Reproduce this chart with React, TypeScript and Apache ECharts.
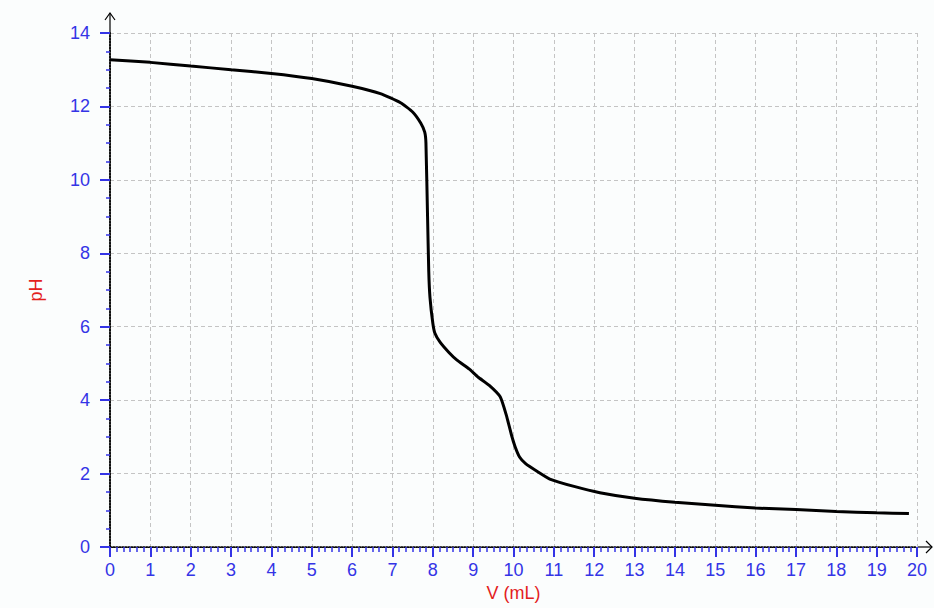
import React, { useEffect, useRef } from "react";
import * as echarts from "echarts";

const volume: number[] = [0, 1, 2, 3, 4, 5, 6, 6.7, 7.2, 7.5, 7.7, 7.8, 7.83, 7.87, 7.9, 7.93, 8.0, 8.05, 8.18, 8.4, 8.6, 8.9, 9.12, 9.4, 9.67, 9.82, 9.95, 10.04, 10.15, 10.3, 10.6, 10.9, 11.5, 12.14, 13, 14, 15, 16, 17, 18, 19, 19.8];
const ph: number[] = [13.27, 13.2, 13.1, 13.0, 12.9, 12.76, 12.55, 12.35, 12.1, 11.85, 11.55, 11.3, 11.0, 9.0, 7.5, 6.8, 6.1, 5.83, 5.58, 5.3, 5.09, 4.85, 4.63, 4.4, 4.09, 3.6, 3.05, 2.73, 2.45, 2.27, 2.05, 1.85, 1.65, 1.48, 1.33, 1.22, 1.14, 1.06, 1.02, 0.97, 0.93, 0.91];

const xName = "V (mL)";
const yName = "pH";

const BLUE = "#3434e6";
const RED = "#e3201c";
const FONT = "Liberation Sans";

export default function App() {
  const ref = useRef<HTMLDivElement>(null);
  useEffect(() => {
    if (!ref.current) return;
    const chart = echarts.init(ref.current, undefined, { renderer: "svg" });
    const data = volume.map((v, i) => [v, ph[i]]);
    chart.setOption({
      animation: false,
      backgroundColor: "#fbfdfd",
      grid: { left: 110, right: 17, top: 33, bottom: 61 },
      xAxis: [
        {
          type: "value",
          min: 0,
          max: 20,
          interval: 1,
          name: xName,
          nameLocation: "middle",
          nameGap: 35,
          nameTextStyle: { color: RED, fontSize: 18, fontFamily: FONT },
          axisLine: { show: true, lineStyle: { color: "#000", type: "dotted", width: 1 } },
          axisTick: { show: true, length: 10, lineStyle: { color: BLUE, width: 2 } },
          minorTick: { show: true, splitNumber: 6, length: 5, lineStyle: { color: BLUE, width: 1.5 } },
          axisLabel: { color: BLUE, fontSize: 18, fontFamily: FONT, margin: 14 },
          splitLine: { show: true, lineStyle: { color: "#c4c4c4", type: [4, 3], width: 1 } },
        },
        {
          type: "value",
          position: "top",
          min: 0,
          max: 20,
          axisLine: { show: true, lineStyle: { color: "#000", type: "dotted", width: 1.5 } },
          axisTick: { show: false },
          axisLabel: { show: false },
          splitLine: { show: false },
        },
      ],
      yAxis: [
        {
          type: "value",
          min: 0,
          max: 14,
          interval: 2,
          name: yName,
          nameLocation: "middle",
          nameGap: 65,
          nameTextStyle: { color: RED, fontSize: 18, fontFamily: FONT },
          axisLine: { show: true, lineStyle: { color: "#000", type: "dotted", width: 1.5 } },
          axisTick: { show: true, length: 10, lineStyle: { color: BLUE, width: 2 } },
          minorTick: { show: true, splitNumber: 4, length: 4, lineStyle: { color: BLUE, width: 1.5 } },
          axisLabel: { color: BLUE, fontSize: 18, fontFamily: FONT, margin: 20 },
          splitLine: { show: true, lineStyle: { color: "#c4c4c4", type: [4, 3], width: 1 } },
        },
        {
          type: "value",
          position: "right",
          min: 0,
          max: 14,
          axisLine: { show: true, lineStyle: { color: "#000", type: "dotted", width: 1.5 } },
          axisTick: { show: false },
          axisLabel: { show: false },
          splitLine: { show: false },
        },
      ],
      graphic: [
        { type: "line", shape: { x1: 110, y1: 33, x2: 110, y2: 13 }, style: { stroke: "#000", lineWidth: 1.2 } },
        { type: "polyline", shape: { points: [[105, 20], [110, 13], [115, 20]] }, style: { stroke: "#000", lineWidth: 1.2, fill: "none" } },
        { type: "line", shape: { x1: 917, y1: 547, x2: 932, y2: 547 }, style: { stroke: "#000", lineWidth: 1.2 } },
        { type: "polyline", shape: { points: [[926, 541], [932, 547], [926, 553]] }, style: { stroke: "#000", lineWidth: 1.2, fill: "none" } },
      ],
      series: [
        {
          type: "line",
          data,
          showSymbol: false,
          smooth: 0.15,
          lineStyle: { color: "#000", width: 3 },
          xAxisIndex: 0,
          yAxisIndex: 0,
        },
      ],
    });
    return () => chart.dispose();
  }, []);
  return <div ref={ref} style={{ position: "fixed", left: 0, top: 0, width: 934, height: 608 }} />;
}
